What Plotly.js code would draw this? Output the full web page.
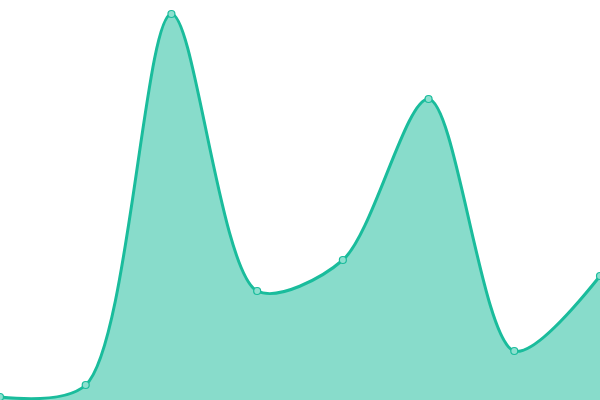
<!DOCTYPE html>
<html>
<head>
<meta charset="utf-8">
<script src="https://cdn.plot.ly/plotly-3.0.1.min.js"></script>
<style>
  html, body { margin: 0; padding: 0; background: #fff; }
  #graph { width: 600px; height: 400px; }
</style>
</head>
<body>
<div id="graph"></div>
<script>
// x positions are just the point index, the axis is hidden
var labels = [0, 1, 2, 3, 4, 5, 6, 7];
var values = [3, 15, 386, 109, 140, 301, 49, 124];

var trace = {
    x: labels,
    y: values,
    type: 'scatter',
    mode: 'lines+markers',
    fill: 'tozeroy',
    fillcolor: 'rgba(26,188,156,0.52)',
    line: { color: '#1abc9c', width: 3, shape: 'spline', smoothing: 0.85 },
    marker: {
        size: 7,
        color: '#8de0cf',
        line: { color: '#1abc9c', width: 1.2 }
    },
    cliponaxis: true,
    hoverinfo: 'none'
};

var layout = {
    width: 600,
    height: 400,
    margin: { l: 0, r: 0, t: 0, b: 0, pad: 0 },
    paper_bgcolor: '#fff',
    plot_bgcolor: '#fff',
    showlegend: false,
    xaxis: { range: [0, 7], visible: false, fixedrange: true },
    yaxis: { range: [0, 400], visible: false, fixedrange: true }
};

Plotly.newPlot('graph', [trace], layout, { displayModeBar: false, staticPlot: true });
</script>
</body>
</html>
